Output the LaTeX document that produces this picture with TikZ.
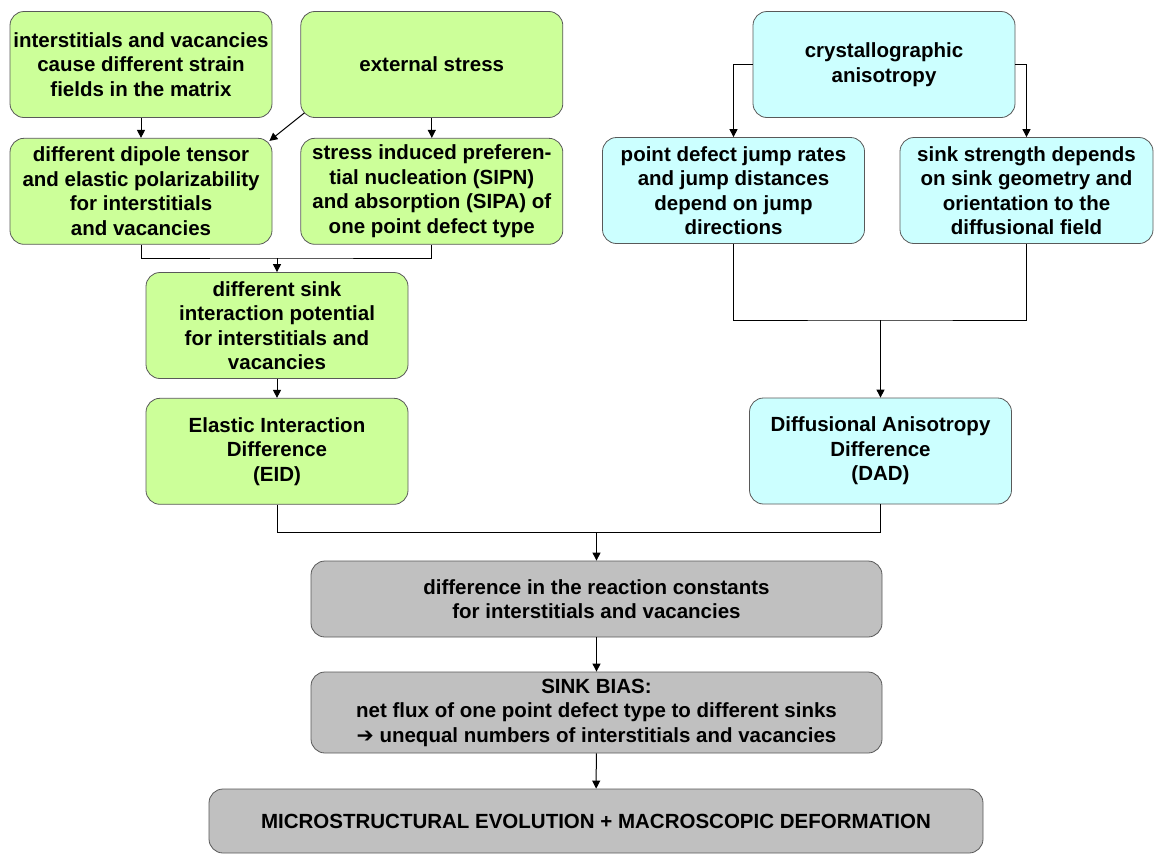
\documentclass[tikz,border=0pt]{standalone}
\usepackage{fontspec}
\setmainfont{Liberation Sans}
\newfontfamily\dingfont{DejaVu Sans}
\usetikzlibrary{arrows.meta, positioning}
\definecolor{leafgreen}{HTML}{CCFF99}
\definecolor{icecyan}{HTML}{CCFFFF}
\definecolor{boxgray}{HTML}{C0C0C0}

\begin{document}
\begin{tikzpicture}[
    x=1pt, y=1pt,
    node distance=20pt and 28pt,
    box/.style={rectangle, draw=black!65, line width=0.8pt, rounded corners=14pt, align=center, minimum width=262pt, minimum height=106pt, inner xsep=2pt, font=\fontsize{20.5}{24.5}\selectfont\bfseries},
    greenbox/.style={box, fill=leafgreen},
    cyanbox/.style={box, fill=icecyan},
    graybox/.style={box, fill=boxgray, minimum width=571pt},
    arrow/.style={-{Triangle[length=8pt, width=8pt]}, line width=1pt},
    link/.style={line width=1pt}
]
    \useasboundingbox (0,0) rectangle (1155,-855);

    % elastic branch
    \node[greenbox] (strain) at (141,-64.5) {interstitials and vacancies\\cause different strain\\fields in the matrix};
    \node[greenbox, right=of strain] (stress) {external stress};
    \node[greenbox, below=of strain] (dipole) {different dipole tensor\\and elastic polarizability\\for interstitials\\and vacancies};
    \node[greenbox, below=of stress] (sipn) {stress induced preferen-\\tial nucleation (SIPN)\\and absorption (SIPA) of\\one point defect type};
    \node[greenbox] (sinkpot) at (277,-325.5) {different sink\\interaction potential\\for interstitials and\\vacancies};
    \node[greenbox, below=19pt of sinkpot] (eid) {Elastic Interaction\\Difference\\(EID)};

    % diffusional branch
    \node[cyanbox] (cryst) at (884,-64.5) {crystallographic\\anisotropy};
    \node[cyanbox] (jump) at (733.5,-190.5) {point defect jump rates\\and jump distances\\depend on jump\\directions};
    \node[cyanbox, minimum width=253pt] (strength) at (1026.5,-190.5) {sink strength depends\\on sink geometry and\\orientation to the\\diffusional field};
    \node[cyanbox] (dad) at (880.5,-451) {Diffusional Anisotropy\\Difference\\(DAD)};

    % common part
    \node[graybox, minimum height=76pt] (reaction) at (596.5,-599) {difference in the reaction constants\\for interstitials and vacancies};
    \node[graybox, minimum height=81pt] (bias) at (596.5,-712.5) {SINK BIAS:\\net flux of one point defect type to different sinks\\{\dingfont ➔} unequal numbers of interstitials and vacancies};
    \node[graybox, minimum width=774pt, minimum height=64pt] (evol) at (596,-821) {MICROSTRUCTURAL EVOLUTION + MACROSCOPIC DEFORMATION};

    \coordinate (join1) at (277,-258);
    \coordinate (join2) at (880.5,-320);
    \coordinate (join3) at (596.5,-532);

    \draw[arrow] (strain) -- (dipole);
    \draw[arrow] (stress) -- (sipn);
    \draw[arrow] ([shift={(4pt,5pt)}]stress.south west) -- ([shift={(-3pt,-3pt)}]dipole.north east);
    \draw[link] (dipole.south) |- (join1) -| (sipn.south);
    \draw[arrow] (join1) -- (sinkpot);
    \draw[arrow] (sinkpot) -- (eid);

    \draw[arrow] (cryst.west) -| (jump.north);
    \draw[arrow] (cryst.east) -| (strength.north);
    \draw[link] (jump.south) |- (join2) -| (strength.south);
    \draw[arrow] (join2) -- (dad);

    \draw[link] (eid.south) |- (join3) -| (dad.south);
    \draw[arrow] (join3) -- (reaction);
    \draw[arrow] (reaction) -- (bias);
    \draw[arrow] (bias) -- (evol);
\end{tikzpicture}
\end{document}
